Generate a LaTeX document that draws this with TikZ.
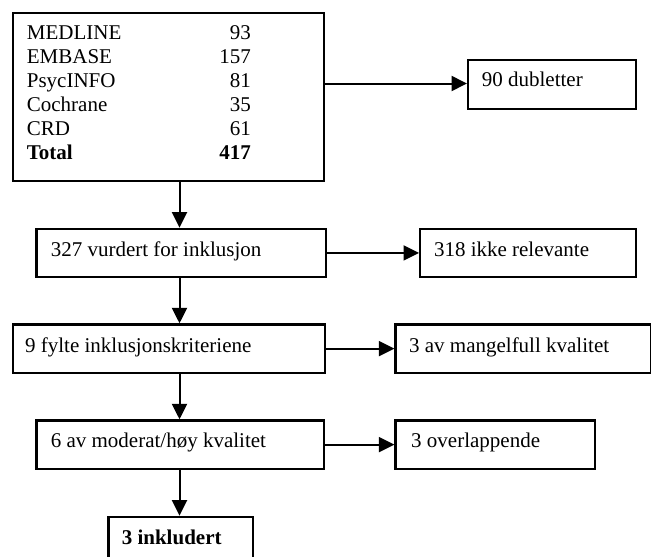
\documentclass[tikz,border=0pt]{standalone}
\usepackage{fontspec}
\setmainfont{Liberation Serif}
\usetikzlibrary{arrows.meta,calc}
\begin{document}
\begin{tikzpicture}[x=1pt,y=-1pt,
  box/.style={draw=black,line width=2.2pt,rectangle,inner sep=0pt},
  txt/.style={inner sep=0pt,anchor=base west,font=\fontsize{21}{24}\selectfont},
  arr/.style={line width=2pt,-{Triangle[length=15.5pt,width=15pt]}},
  ln/.style={line width=2pt}]
\useasboundingbox (0,0) rectangle (651,557);
\clip (0,0) rectangle (651,557);
\newcommand\mkbox[5]{\node[box,minimum width={#4-#2},minimum height={#5-#3},anchor=north west] (#1) at (#2,#3) {};}
\mkbox{top}{11.7}{12}{323}{180}
\mkbox{dub}{467}{59}{635}{108}
\mkbox{b327}{35.3}{227.7}{324.5}{276}
\mkbox{b318}{419}{227.7}{635}{276}
\mkbox{b9}{11.6}{323.3}{323.8}{371.7}
\mkbox{b3av}{394.4}{323.3}{650}{371.7}
\mkbox{b6}{35.3}{419.3}{323}{467.7}
\mkbox{bover}{394.4}{419.3}{593.6}{467.7}
\mkbox{bincl}{107.3}{515.7}{251.7}{580}
\coordinate (axis) at (179.5,0);
\coordinate (ydub) at (0,83.5);
% texts
\node[txt] (ttop) at (26.7,39.3) {\begin{tabular*}{224pt}[t]{@{}l@{\extracolsep{\fill}}r@{}}
MEDLINE & 93\\
EMBASE & 157\\
PsycINFO & 81\\
Cochrane & 35\\
CRD & 61\\
\textbf{Total} & \textbf{417}
\end{tabular*}};
\node[txt] (tdub) at (481.7,86.7) {90 dubletter};
\node[txt] (t327) at (50.6,256) {327 vurdert for inklusjon};
\node[txt] (t318) at (433.8,256) {318 ikke relevante};
\node[txt] (t9) at (24.9,352.7) {9 fylte inklusjonskriteriene};
\node[txt] (t3av) at (408.9,352.7) {3 av mangelfull kvalitet};
\node[txt] (t6) at (50.6,447.3) {6 av moderat/høy kvalitet};
\node[txt] (tover) at (411,447.3) {3 overlappende};
\node[txt] (tincl) at (121.6,544) {\textbf{3 inkludert}};
% connectors
\draw[arr] (top.east |- ydub) -- (dub.west |- ydub);
\draw[arr] (b327.east) -- (b318.west);
\draw[arr] (b9.east) -- (b3av.west);
\draw[arr] (b6.east) -- (bover.west);
\draw[arr] (top.south -| axis) -- (b327.north -| axis);
\draw[arr] (b327.south -| axis) -- (b9.north -| axis);
\draw[arr] (b9.south -| axis) -- (b6.north -| axis);
\draw[arr] (b6.south -| axis) -- (bincl.north -| axis);
\end{tikzpicture}
\end{document}
